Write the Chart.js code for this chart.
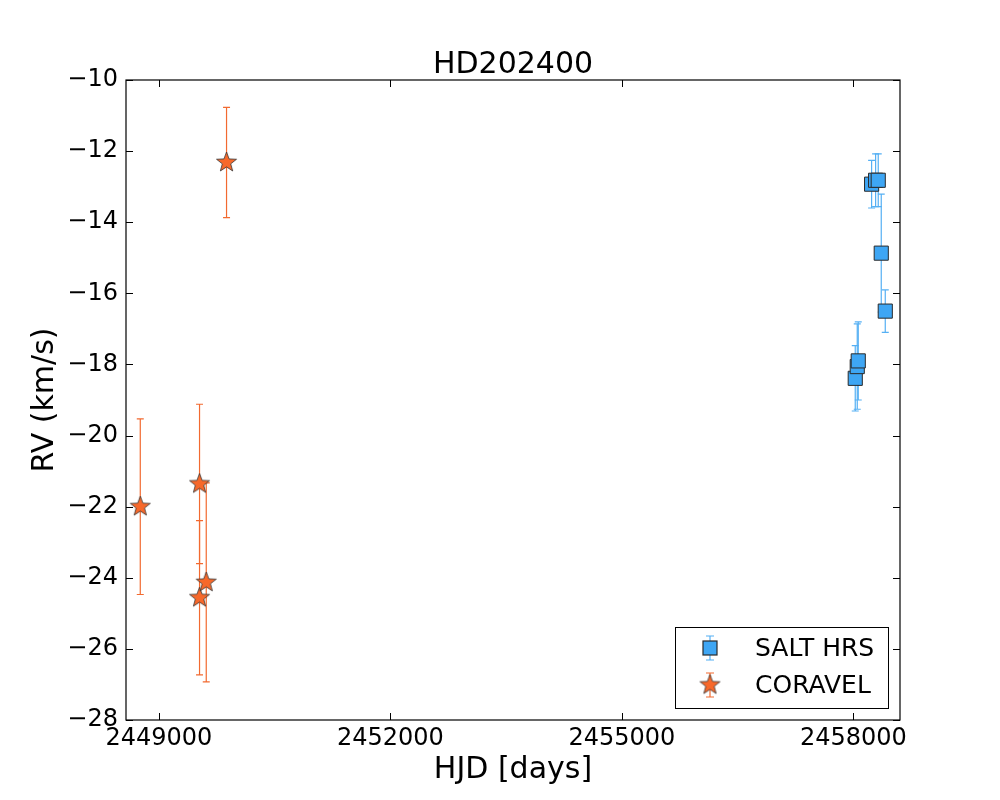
<!DOCTYPE html>
<html>
<head>
<meta charset="utf-8">
<script src="https://cdn.jsdelivr.net/npm/chart.js@4/dist/chart.umd.min.js"></script>
<style>
  body { margin: 0; background: #fff; }
  canvas { display: block; }
</style>
</head>
<body>
<canvas id="rvChart" width="1000" height="800"></canvas>
<script>
// SALT HRS measurements
const saltHJD = [2458236, 2458288, 2458322, 2458361, 2458413, 2458024, 2458050, 2458063];
const saltRV = [-12.93, -12.82, -12.82, -14.87, -16.50, -18.39, -18.06, -17.90];
const saltErr = [0.67, 0.74, 0.74, 1.66, 0.60, 0.92, 1.20, 1.10];

// CORAVEL measurements
const coravelHJD = [2448758, 2449526, 2449526, 2449613, 2449876];
const coravelRV = [-22.00, -21.36, -24.56, -24.13, -12.32];
const coravelErr = [2.47, 2.24, 2.17, 2.80, 1.55];

const xTicks = [2449000, 2452000, 2455000, 2458000];
const yTicks = [-28, -26, -24, -22, -20, -18, -16, -14, -12, -10];

const FONT = 'DejaVu Sans';
const TITLE = 'HD202400';

function makeStar(r, fill, edge) {
    const size = Math.ceil(r * 2 + 4);
    const c = document.createElement('canvas');
    c.width = size;
    c.height = size;
    const g = c.getContext('2d');
    const cx = size / 2, cy = size / 2;
    g.beginPath();
    for (let i = 0; i < 10; i++) {
        const rad = i % 2 === 0 ? r : r * 0.42;
        const a = -Math.PI / 2 + i * Math.PI / 5;
        const px = cx + rad * Math.cos(a);
        const py = cy + rad * Math.sin(a);
        if (i === 0) g.moveTo(px, py); else g.lineTo(px, py);
    }
    g.closePath();
    g.fillStyle = fill;
    g.fill();
    g.lineWidth = 0.8;
    g.strokeStyle = edge;
    g.stroke();
    return c;
}

const starImg = makeStar(10.5, '#f7682a', '#333333');

function toPoints(xs, ys) {
    return xs.map((x, i) => ({ x: x, y: ys[i] }));
}

const datasets = [
    {
        label: 'SALT HRS',
        data: toPoints(saltHJD, saltRV),
        errors: saltErr,
        errColor: '#55b0f4',
        pointStyle: 'rect',
        pointRadius: 10,
        pointHoverRadius: 10,
        backgroundColor: '#3ea6f4',
        borderColor: '#2a2a2a',
        borderWidth: 1,
        showLine: false
    },
    {
        label: 'CORAVEL',
        data: toPoints(coravelHJD, coravelRV),
        errors: coravelErr,
        errColor: '#f26a30',
        pointStyle: starImg,
        pointRadius: 10,
        backgroundColor: '#f7682a',
        borderColor: '#333333',
        showLine: false
    }
];

// vertical error bars with caps, under the markers
const errorBars = {
    id: 'errorBars',
    beforeDatasetsDraw(chart) {
        const ctx = chart.ctx;
        const xs = chart.scales.x, ys = chart.scales.y;
        const area = chart.chartArea;
        ctx.save();
        ctx.beginPath();
        ctx.rect(area.left, area.top, area.right - area.left, area.bottom - area.top);
        ctx.clip();
        chart.data.datasets.forEach(ds => {
            ctx.strokeStyle = ds.errColor;
            ctx.lineWidth = 1.2;
            ds.data.forEach((p, i) => {
                const px = xs.getPixelForValue(p.x);
                const top = ys.getPixelForValue(p.y + ds.errors[i]);
                const bot = ys.getPixelForValue(p.y - ds.errors[i]);
                ctx.beginPath();
                ctx.moveTo(px, top);
                ctx.lineTo(px, bot);
                ctx.moveTo(px - 3.5, top);
                ctx.lineTo(px + 3.5, top);
                ctx.moveTo(px - 3.5, bot);
                ctx.lineTo(px + 3.5, bot);
                ctx.stroke();
            });
        });
        ctx.restore();
    }
};

// frame, inward ticks, title over the plot and boxed legend (matplotlib classic look)
const frameAndLegend = {
    id: 'frameAndLegend',
    afterDraw(chart) {
        const ctx = chart.ctx;
        const a = chart.chartArea;
        const xs = chart.scales.x, ys = chart.scales.y;
        const tl = 7;
        ctx.save();
        ctx.strokeStyle = '#000';
        ctx.lineWidth = 1;
        ctx.beginPath();
        xs.ticks.forEach(t => {
            const px = Math.round(xs.getPixelForValue(t.value)) + 0.5;
            ctx.moveTo(px, a.bottom); ctx.lineTo(px, a.bottom - tl);
            ctx.moveTo(px, a.top); ctx.lineTo(px, a.top + tl);
        });
        ys.ticks.forEach(t => {
            const py = Math.round(ys.getPixelForValue(t.value)) + 0.5;
            ctx.moveTo(a.left, py); ctx.lineTo(a.left + tl, py);
            ctx.moveTo(a.right, py); ctx.lineTo(a.right - tl, py);
        });
        ctx.stroke();
        ctx.lineWidth = 1.2;
        ctx.strokeRect(a.left, a.top, a.right - a.left, a.bottom - a.top);

        // title centred over the plot area
        ctx.fillStyle = '#000';
        ctx.font = '30px "' + FONT + '"';
        ctx.textAlign = 'center';
        ctx.textBaseline = 'alphabetic';
        ctx.fillText(TITLE, (a.left + a.right) / 2, 73);

        // legend
        const lx = 675, ly = 627, lw = 213, lh = 81;
        ctx.fillStyle = '#fff';
        ctx.fillRect(lx, ly, lw, lh);
        ctx.lineWidth = 1;
        ctx.strokeStyle = '#000';
        ctx.strokeRect(lx + 0.5, ly + 0.5, lw, lh);
        ctx.font = '25px "' + FONT + '"';
        ctx.textBaseline = 'middle';
        chart.data.datasets.forEach((ds, i) => {
            const cy = ly + 21 + i * 37;
            const cx = lx + 35;
            ctx.strokeStyle = ds.errColor;
            ctx.lineWidth = 1.2;
            ctx.beginPath();
            ctx.moveTo(cx, cy - 12); ctx.lineTo(cx, cy + 12);
            ctx.moveTo(cx - 4, cy - 12); ctx.lineTo(cx + 4, cy - 12);
            ctx.moveTo(cx - 4, cy + 12); ctx.lineTo(cx + 4, cy + 12);
            ctx.stroke();
            if (ds.pointStyle === 'rect') {
                ctx.fillStyle = ds.backgroundColor;
                ctx.fillRect(cx - 7, cy - 7, 14, 14);
                ctx.strokeStyle = ds.borderColor;
                ctx.strokeRect(cx - 7, cy - 7, 14, 14);
            } else {
                ctx.drawImage(ds.pointStyle, cx - ds.pointStyle.width / 2, cy - ds.pointStyle.height / 2);
            }
            ctx.fillStyle = '#000';
            ctx.textAlign = 'left';
            ctx.fillText(ds.label, lx + 80, cy + 1);
        });
        ctx.restore();
    }
};

function minusLabel(v) {
    return String(v).replace('-', '\u2212');
}

const ctx = document.getElementById('rvChart');

new Chart(ctx, {
    type: 'scatter',
    data: { datasets: datasets },
    plugins: [errorBars, frameAndLegend],
    options: {
        responsive: false,
        devicePixelRatio: 1,
        animation: false,
        layout: { padding: { left: 23, right: 100, top: 80, bottom: 0 } },
        plugins: {
            legend: { display: false },
            tooltip: { enabled: false },
            title: { display: false }
        },
        scales: {
            x: {
                type: 'linear',
                min: 2448573,
                max: 2458604,
                afterBuildTicks: scale => {
                    scale.ticks = xTicks.map(v => ({ value: v }));
                },
                afterFit: scale => { scale.height = 80; },
                grid: { display: false, drawTicks: false },
                border: { display: false },
                ticks: {
                    color: '#000',
                    padding: 4,
                    maxRotation: 0,
                    autoSkip: false,
                    font: { family: FONT, size: 24 },
                    callback: v => String(v)
                },
                title: {
                    display: true,
                    text: 'HJD [days]',
                    color: '#000',
                    padding: 12,
                    font: { family: FONT, size: 30, lineHeight: 1.2 }
                }
            },
            y: {
                type: 'linear',
                min: -28,
                max: -10,
                afterBuildTicks: scale => {
                    scale.ticks = yTicks.map(v => ({ value: v }));
                },
                afterFit: scale => { scale.width = 103; },
                grid: { display: false, drawTicks: false },
                border: { display: false },
                ticks: {
                    color: '#000',
                    padding: 8,
                    autoSkip: false,
                    font: { family: FONT, size: 24 },
                    callback: v => minusLabel(v)
                },
                title: {
                    display: true,
                    text: 'RV (km/s)',
                    color: '#000',
                    padding: 4,
                    font: { family: FONT, size: 30, lineHeight: 1.2 }
                }
            }
        }
    }
});
</script>
</body>
</html>
